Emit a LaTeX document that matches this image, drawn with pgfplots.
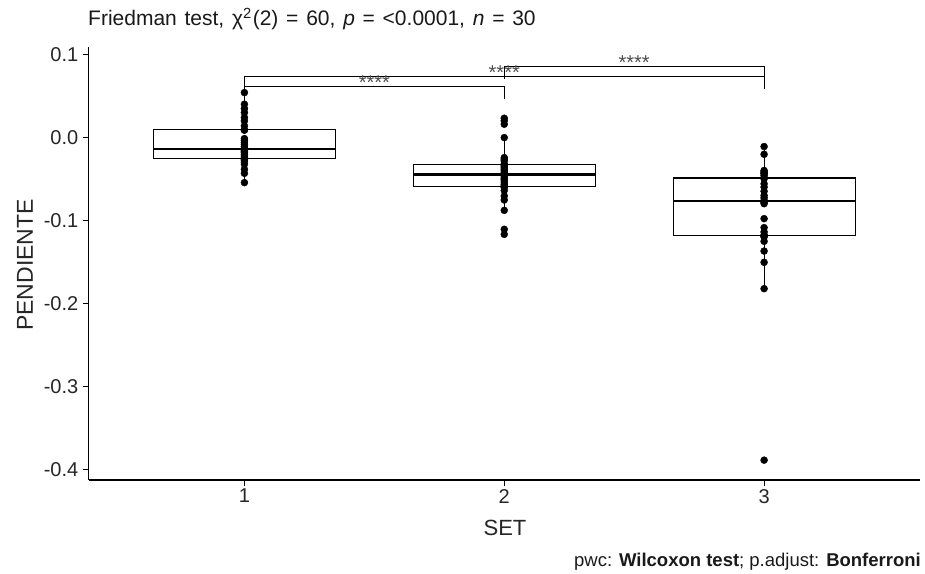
\documentclass[border=0pt]{standalone}
\usepackage{fontspec}
\setmainfont{Liberation Sans}
\usepackage{pgfplots}
\pgfplotsset{compat=1.18}

% Slopes (PENDIENTE) per SET, 30 subjects each
\pgfplotstableread{
x y
1 -0.0546
1 -0.0434
1 -0.0386
1 -0.0325
1 -0.0300
1 -0.0275
1 -0.0265
1 -0.0255
1 -0.0247
1 -0.0225
1 -0.0205
1 -0.0185
1 -0.0170
1 -0.0155
1 -0.0145
1 -0.0137
1 -0.0115
1 -0.0090
1 -0.0064
1 -0.0040
1 -0.0016
1 0.0085
1 0.0090
1 0.0137
1 0.0197
1 0.0237
1 0.0297
1 0.0345
1 0.0398
1 0.0538
}\setone
\pgfplotstableread{
x y
2 -0.1169
2 -0.1108
2 -0.0880
2 -0.0755
2 -0.0707
2 -0.0640
2 -0.0606
2 -0.0592
2 -0.0584
2 -0.0566
2 -0.0540
2 -0.0514
2 -0.0500
2 -0.0480
2 -0.0458
2 -0.0442
2 -0.0426
2 -0.0405
2 -0.0386
2 -0.0365
2 -0.0345
2 -0.0332
2 -0.0323
2 -0.0285
2 -0.0265
2 -0.0245
2 -0.0004
2 0.0157
2 0.0200
2 0.0229
}\settwo
\pgfplotstableread{
x y
3 -0.3888
3 -0.1823
3 -0.1506
3 -0.1370
3 -0.1253
3 -0.1200
3 -0.1190
3 -0.1182
3 -0.1178
3 -0.1140
3 -0.1088
3 -0.0980
3 -0.0800
3 -0.0785
3 -0.0772
3 -0.0762
3 -0.0730
3 -0.0700
3 -0.0650
3 -0.0600
3 -0.0560
3 -0.0500
3 -0.0487
3 -0.0460
3 -0.0440
3 -0.0430
3 -0.0418
3 -0.0400
3 -0.0205
3 -0.0112
}\setthree

\begin{document}
\begin{tikzpicture}[x=1pt,y=1pt]
\path[use as bounding box] (0,0) rectangle (925,573);
\begin{axis}[
  at={(88.5pt,93pt)}, anchor=south west,
  scale only axis, width=831.5pt, height=433pt,
  xmin=0.4, xmax=3.6, ymin=-0.4127, ymax=0.1087,
  clip=false,
  axis lines=left,
  axis line style={-, line width=1.1pt, black},
  tick align=outside,
  major tick length=6pt,
  major tick style={line width=1.1pt, black},
  xtick={1,2,3}, xticklabels={1,2,3},
  ytick={-0.4,-0.3,-0.2,-0.1,0,0.1},
  yticklabels={-0.4,-0.3,-0.2,-0.1,0.0,0.1},
  ticklabel style={font=\fontsize{20}{23}\selectfont, text=black!85},
  yticklabel style={inner sep=0pt, xshift=-4pt},
  xticklabel style={inner sep=0pt, yshift=-3pt},
  box/.style={black, line width=1.1pt, line join=miter, mark=none},
  med/.style={black, line width=2.5pt, mark=none},
]
% SET 1: whiskers, box (Q1 -0.0253, Q3 0.0089), median -0.0141
\addplot[box] coordinates {(1,-0.0546) (1,-0.0253)};
\addplot[box] coordinates {(1,0.0089) (1,0.0538)};
\addplot[box] coordinates {(0.65,-0.0253) (1.35,-0.0253) (1.35,0.0089) (0.65,0.0089)} -- cycle;
\addplot[med] coordinates {(0.65,-0.0141) (1.35,-0.0141)};
% SET 2: Q1 -0.0590, Q3 -0.0325, median -0.0450
\addplot[box] coordinates {(2,-0.0880) (2,-0.0590)};
\addplot[box] coordinates {(2,-0.0325) (2,-0.0004)};
\addplot[box] coordinates {(1.65,-0.0590) (2.35,-0.0590) (2.35,-0.0325) (1.65,-0.0325)} -- cycle;
\addplot[med] coordinates {(1.65,-0.0450) (2.35,-0.0450)};
% SET 3: Q1 -0.1181, Q3 -0.0490, median -0.0767
\addplot[box] coordinates {(3,-0.1823) (3,-0.1181)};
\addplot[box] coordinates {(3,-0.0490) (3,-0.0112)};
\addplot[box] coordinates {(2.65,-0.1181) (3.35,-0.1181) (3.35,-0.0490) (2.65,-0.0490)} -- cycle;
\addplot[med] coordinates {(2.65,-0.0767) (3.35,-0.0767)};
% individual points
\addplot[only marks, mark=*, mark size=3.5pt, black] table[x=x,y=y] {\setone};
\addplot[only marks, mark=*, mark size=3.5pt, black] table[x=x,y=y] {\settwo};
\addplot[only marks, mark=*, mark size=3.5pt, black] table[x=x,y=y] {\setthree};
% pairwise comparison brackets
\addplot[black, line width=1pt] coordinates {(1,0.0466) (1,0.0611) (2,0.0611) (2,0.0466)};
\addplot[black, line width=1pt] coordinates {(1,0.0582) (1,0.0727) (3,0.0727) (3,0.0582)};
\addplot[black, line width=1pt] coordinates {(2,0.0702) (2,0.0847) (3,0.0847) (3,0.0702)};
\node[anchor=base, inner sep=0pt, yshift=-2.5pt, text=black!70, font=\fontsize{20}{22}\selectfont] at (axis cs:1.5,0.0611) {****};
\node[anchor=base, inner sep=0pt, yshift=-2.5pt, text=black!70, font=\fontsize{20}{22}\selectfont] at (axis cs:2,0.0727) {****};
\node[anchor=base, inner sep=0pt, yshift=-2.5pt, text=black!70, font=\fontsize{20}{22}\selectfont] at (axis cs:2.5,0.0847) {****};
\end{axis}
% titles and caption
\node[anchor=base west, inner sep=0pt, font=\fontsize{21}{24}\selectfont, text=black!90] at (88,547)
  {\spaceskip=0.37em\relax Friedman test, χ\textsuperscript{2}\kern1pt(2) = 60, \textit{p} = <0.0001, \textit{n} = 30};
\node[anchor=base, inner sep=0pt, font=\fontsize{22}{25}\selectfont, text=black!85] at (505,38) {SET};
\node[rotate=90, inner sep=0pt, font=\fontsize{23}{26}\selectfont, text=black!85] at (25,308) {PENDIENTE};
\node[anchor=base east, inner sep=0pt, font=\fontsize{18.5}{21}\selectfont, text=black!90] at (921,7)
  {pwc: \textbf{Wilcoxon test}; p.adjust: \textbf{Bonferroni}};
\end{tikzpicture}
\end{document}
